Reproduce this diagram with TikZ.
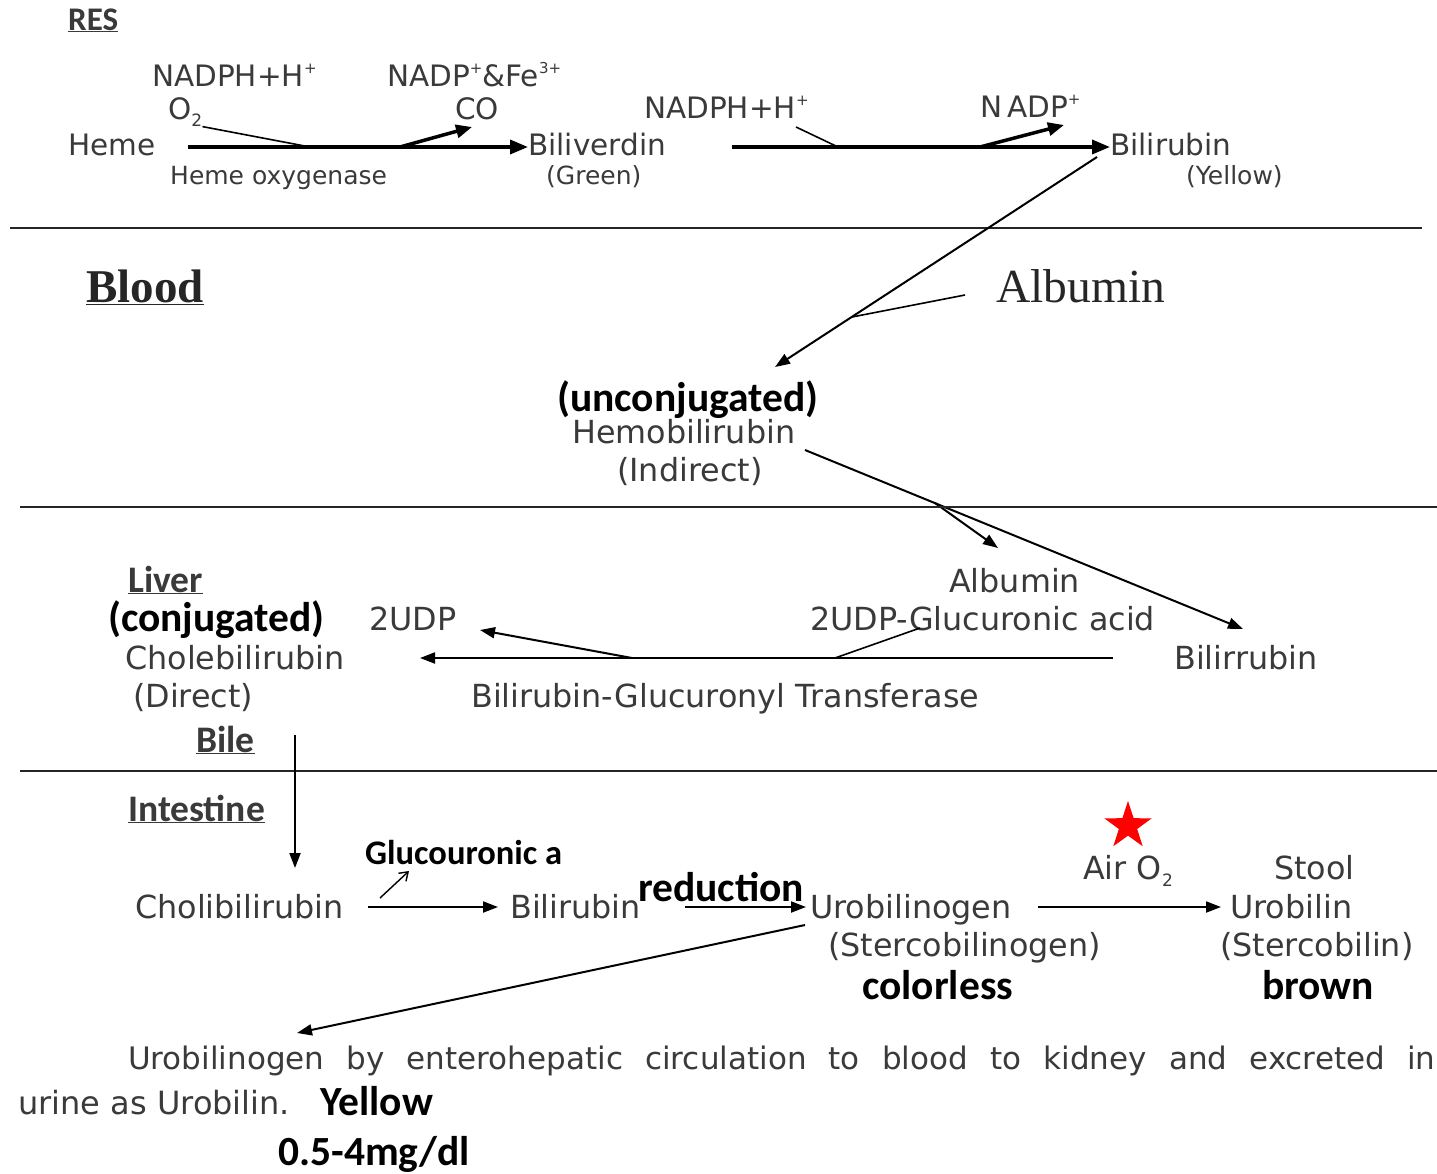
\documentclass[tikz,border=0pt]{standalone}
\usepackage{fontspec}
\setmainfont{DejaVu Sans}
\newfontfamily\carl{Carlito}
\newfontfamily\tms{Liberation Serif}
\usetikzlibrary{arrows.meta,shapes.geometric}
\definecolor{txtgray}{HTML}{3A3A3A}
\newcommand{\mysup}[1]{\raisebox{0.42em}{\fontsize{15}{15}\selectfont #1}}
\newcommand{\mysub}[1]{\raisebox{-0.25em}{\fontsize{17}{17}\selectfont #1}}
\begin{document}
\begin{tikzpicture}[x=1pt,y=-1pt,
  lbl/.style={anchor=base west, inner sep=0pt, text=txtgray, font=\fontsize{31.8}{36}\selectfont},
  lblr/.style={anchor=base west, inner sep=0pt, text=txtgray, font=\fontsize{29.5}{34}\selectfont},
  lbls/.style={anchor=base west, inner sep=0pt, text=txtgray, font=\fontsize{25}{28}\selectfont},
  note/.style={anchor=base west, inner sep=0pt, text=black, font=\carl\bfseries\fontsize{41.5}{46}\selectfont},
  notes/.style={anchor=base west, inner sep=0pt, text=black, font=\carl\bfseries\fontsize{34.5}{40}\selectfont},
  head/.style={anchor=base west, inner sep=0pt, text=txtgray, font=\carl\bfseries\fontsize{37.5}{40}\selectfont},
  serifl/.style={anchor=base west, inner sep=0pt, text=black!85, font=\tms\fontsize{47.5}{50}\selectfont},
  divider/.style={line width=2pt, draw=black!85},
  rxn/.style={line width=3.5pt, -{Triangle[length=18pt,width=14pt]}},
  rxnb/.style={line width=3.5pt, -{Triangle[length=16pt,width=13pt]}},
  rxnline/.style={line width=1.6pt},
  arr/.style={line width=2pt, -{Triangle[length=15pt,width=11pt]}},
  thinline/.style={line width=1.6pt},
  openarr/.style={line width=1.4pt, -{Straight Barb[length=8pt,width=11pt]}}
]
\fill[white] (0,0) rectangle (1437,1173);
\useasboundingbox (0,0) rectangle (1437,1173);

% ---------- RES ----------
\node[head, font=\carl\bfseries\fontsize{33}{36}\selectfont] (res) at (68,30) {\underline{RES}};
\node[lblr] (nadph1) at (152,86) {NADPH+H\mysup{+}};
\node[lblr] (nadpfe) at (387,86) {NADP\mysup{+}\&Fe\mysup{3+}};
\node[lblr] (o2) at (168,119) {O\mysub{2}};
\node[lblr] (co) at (455,119) {CO};
\node[lblr] (heme) at (68,155) {Heme};
\node[lblr] (biliv) at (528,155) {Biliverdin};
\node[lbls] (hox) at (170,184) {Heme oxygenase};
\node[lbls] (green) at (546,184) {(Green)};
\node[lblr] (nadph2) at (644,118) {NADPH+H\mysup{+}};
\node[lblr] (nadp) at (980,117) {N\,ADP\mysup{+}};
\node[lblr] (bilir) at (1110,155) {Bilirubin};
\node[lbls] (yellowres) at (1186,184) {(Yellow)};

\coordinate (a1s) at (188,147);
\coordinate (j1) at (310,147);
\coordinate (j2) at (400,147);
\coordinate (t1) at (472,127);
\coordinate (a2s) at (732,147);
\coordinate (n2) at (796,127);
\coordinate (j3) at (838,147);
\coordinate (j4) at (980,147);
\coordinate (t2) at (1064,125);

\draw[rxn] (a1s) -- (a1s -| biliv.west);
\draw[rxnline] (o2.south east) -- (j1);
\draw[rxnb] (j2) -- (t1);
\draw[rxn] (a2s) -- (a2s -| bilir.west);
\draw[rxnline] (n2) -- (j3);
\draw[rxnb] (j4) -- (t2);

\draw[divider] (10,228) -- (1422,228);

% ---------- Blood ----------
\node[serifl, font=\tms\bfseries\fontsize{47}{50}\selectfont] (blood) at (86,302) {\underline{Blood}};
\node[serifl] (alb1) at (996,302) {Albumin};
\node[note] (unconj) at (557,411) {(unconjugated)};
\node[lbl] (hemob) at (572,443) {Hemobilirubin};
\node[lbl] (indirect) at (617,481) {(Indirect)};

\coordinate (b1) at (1097,157);
\coordinate (b2) at (775,367);
\coordinate (al1) at (965,295);
\coordinate (al2) at (852,317);
\draw[arr] (b1) -- (b2);
\draw[thinline] (al1) -- (al2);

\coordinate (h1) at (805,450);
\coordinate (h2) at (1243,629);
\coordinate (h3) at (935,503);
\coordinate (h4) at (998,548);
\draw[arr] (h1) -- (h2);
\draw[arr] (h3) -- (h4);

\draw[divider] (20,507) -- (1437,507);

% ---------- Liver ----------
\node[head] (liver) at (128,592) {\underline{Liver}};
\node[note] (conj) at (108,631) {(conjugated)};
\node[lbl] (choleb) at (125,669) {Cholebilirubin};
\node[lbl] (direct) at (133,707) {(Direct)};
\node[lbl] (udp) at (369,630) {2UDP};
\node[lbl] (alb2) at (949,592) {Albumin};
\node[lbl] (udpg) at (810,630) {2UDP-Glucuronic acid};
\node[lbl] (bilirr) at (1174,669) {Bilirrubin};
\node[lbl] (bgt) at (471,707) {Bilirubin-Glucuronyl Transferase};
\node[head] (bile) at (196,752) {\underline{Bile}};

\coordinate (c1) at (1113,658);
\coordinate (c2) at (420,658);
\coordinate (c3) at (920,628);
\coordinate (c4) at (835,658);
\coordinate (c5) at (632,658);
\coordinate (c6) at (480,630);
\draw[arr] (c1) -- (c2);
\draw[thinline] (c3) -- (c4);
\draw[arr] (c5) -- (c6);

\draw[divider] (20,771) -- (1437,771);

% ---------- Intestine ----------
\node[head] (intest) at (128,821) {\underline{Intestine}};
\node[notes] (glca) at (365,864) {Glucouronic a};
\node[lbl] (cholib) at (135,918) {Cholibilirubin};
\node[lbl] (bilint) at (510,918) {Bilirubin};
\node[note] (reduc) at (638,901) {reduction};
\node[lbl] (urobg) at (810,918) {Urobilinogen};
\node[lbl] (sterg) at (828,956) {(Stercobilinogen)};
\node[note] (colorless) at (862,999) {colorless};
\node[lbl] (airo2) at (1083,879) {Air O\mysub{2}};
\node[star, star points=5, star point ratio=2.6, fill=red, draw=none, minimum size=50pt, inner sep=0pt] (star) at (1128,826) {};
\node[lbl] (stool) at (1274,879) {Stool};
\node[lbl] (urob) at (1230,918) {Urobilin};
\node[lbl] (sterc) at (1220,956) {(Stercobilin)};
\node[note] (brown) at (1262,999) {brown};

\coordinate (v1) at (295,735);
\coordinate (v2) at (295,868);
\draw[arr] (v1) -- (v2);

\coordinate (i1) at (368,907);
\coordinate (i2) at (498,907);
\draw[arr] (i1) -- (i2);
\coordinate (g1) at (380,898);
\coordinate (g2) at (409,871);
\draw[openarr] (g1) -- (g2);
\coordinate (r1) at (685,907);
\coordinate (r2) at (806,907);
\draw[arr] (r1) -- (r2);
\coordinate (u1) at (1038,907);
\coordinate (u2) at (1221,907);
\draw[arr] (u1) -- (u2);
\coordinate (e1) at (805,925);
\coordinate (e2) at (297,1033);
\draw[arr] (e1) -- (e2);

% ---------- bottom text ----------
\node[lbl, font=\fontsize{31}{34}\selectfont] (enter) at (128,1069) {\makebox[1307pt][s]{Urobilinogen by enterohepatic circulation to blood to kidney and excreted in}};
\node[lbl, font=\fontsize{32}{34}\selectfont] (urine) at (18,1114) {urine as Urobilin.};
\node[note] (yellow) at (320,1115) {Yellow};
\node[note] (range) at (278,1165) {0.5-4mg/dl};
\end{tikzpicture}
\end{document}
